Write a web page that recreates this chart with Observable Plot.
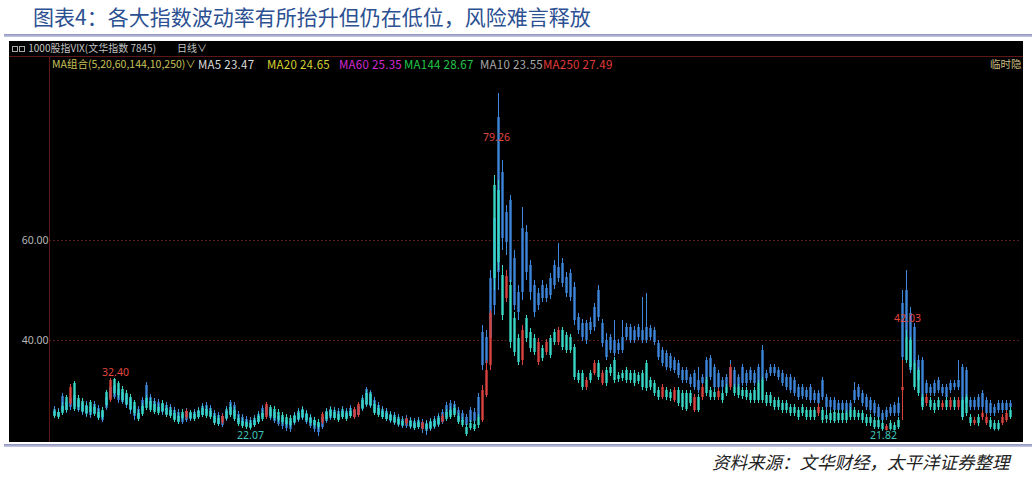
<!DOCTYPE html>
<html><head><meta charset="utf-8">
<script src="https://cdn.jsdelivr.net/npm/d3@7"></script>
<script src="https://cdn.jsdelivr.net/npm/@observablehq/plot@0.6"></script>
<style>
body{margin:0;background:#fff;}
#page{position:relative;width:1032px;height:477px;overflow:hidden;font-family:"Noto Sans CJK SC","Noto Sans",sans-serif;}
#title{position:absolute;left:33px;top:1px;font-size:21px;color:#2c5192;white-space:nowrap;line-height:30px;}
.sep{position:absolute;left:4px;width:1028px;height:3px;background:linear-gradient(#8d90bf,#c9cbe3);}
#panel{position:absolute;left:9px;top:41px;width:1014px;height:401px;background:#000;overflow:hidden;}
#chart{position:absolute;left:0;top:0;}
.hl{position:absolute;left:0;top:15px;width:1014px;height:1px;background:#5e1616;}
.vl{position:absolute;left:40px;top:15px;width:1px;height:386px;background:#5e1616;}
.t{position:absolute;white-space:nowrap;font-size:10.5px;line-height:14px;}
.m{font-size:11.5px;letter-spacing:0.25px;}
#caption{position:absolute;left:712px;top:450px;font-size:17.5px;font-style:italic;color:#222;white-space:nowrap;line-height:24px;}
.box{display:inline-block;width:4px;height:4px;border:1px solid #aaa;margin-right:1px;vertical-align:middle;}
</style>
</head><body>
<div id="page">
  <div id="title">图表4：各大指数波动率有所抬升但仍在低位，风险难言释放</div>
  <div class="sep" style="top:34px"></div>
  <div id="panel">
    <div id="chart"></div>
    <div class="hl"></div>
    <div class="vl"></div>
    <div class="t" style="left:3px;top:0px;color:#c4c4c4;font-size:10px"><span class="box"></span><span class="box"></span> 1000股指VIX(文华指数 7845)</div>
    <div class="t" style="left:168px;top:0px;color:#c4c4c4;font-size:10px">日线∨</div>
    <div class="t" style="left:43px;top:16px;color:#c9c25a">MA组合(5,20,60,144,10,250)∨</div>
    <div class="t m" style="left:189px;top:16px;color:#dcdcdc">MA5 23.47</div>
    <div class="t m" style="left:258px;top:16px;color:#d6d332">MA20 24.65</div>
    <div class="t m" style="left:330px;top:16px;color:#d42ad4">MA60 25.35</div>
    <div class="t m" style="left:395px;top:16px;color:#22c84a">MA144 28.67</div>
    <div class="t m" style="left:471px;top:16px;color:#a8a8a8">MA10 23.55</div>
    <div class="t m" style="left:534px;top:16px;color:#e03a3a">MA250 27.49</div>
    <div class="t" style="left:981px;top:16px;color:#cdbf85">临时隐</div>
  </div>
  <div class="sep" style="top:444px"></div>
  <div id="caption">资料来源：文华财经，太平洋证券整理</div>
</div>
<script>
// ---- data: two daily candlestick series ----
const blueO = [
26.2,25.6,28.8,27.6,28.4,29.0,28.0,27.4,27.0,26.6,
27.2,26.4,25.8,28.6,30.6,31.0,30.2,29.6,29.0,28.2,
26.8,26.2,28.0,31.0,28.6,27.8,27.6,27.2,27.0,26.6,
26.0,25.6,25.2,25.8,25.4,25.6,26.0,26.8,27.0,26.4,
25.4,25.0,24.8,26.2,27.6,27.0,25.2,24.6,24.2,24.0,
24.4,25.2,26.4,26.8,26.2,25.6,24.8,24.6,24.0,23.8,
25.0,25.8,26.2,25.4,24.6,24.0,23.4,24.6,25.8,26.2,
26.0,25.8,26.2,25.8,26.4,26.0,26.8,28.4,30.2,29.6,
28.0,27.0,26.2,25.8,25.2,25.0,24.6,24.2,24.4,24.0,
23.8,24.0,23.6,23.4,23.8,24.2,24.8,25.6,27.0,27.4,
27.2,26.0,25.4,24.6,26.0,25.6,28.6,41.6,40.6,52.4,
64.4,84.6,73.6,65.6,68.0,56.4,49.6,62.4,61.6,55.0,
51.0,49.4,51.0,50.4,52.4,55.0,54.6,55.4,52.6,53.4,
50.6,44.6,43.4,43.4,43.6,46.6,50.0,43.4,40.0,40.6,
40.0,39.4,40.6,42.6,42.6,42.0,42.6,42.0,42.6,42.4,
42.0,39.4,38.0,37.4,36.8,36.0,35.4,34.0,34.0,32.6,
33.4,32.0,32.6,36.0,36.4,34.6,33.4,32.0,32.6,34.6,
34.0,32.6,34.6,33.4,34.0,33.4,34.6,38.0,33.4,34.6,
34.6,34.0,33.4,32.6,32.6,32.0,30.6,30.6,30.0,30.6,
29.4,29.4,32.0,28.6,28.0,28.0,27.4,27.4,27.4,27.4,
30.0,30.6,29.4,28.6,28.0,27.4,26.6,25.4,26.0,26.6,
27.0,27.4,47.4,50.0,45.4,42.6,36.0,36.0,31.4,30.6,
31.4,32.0,30.6,30.6,31.4,31.4,32.0,34.6,34.0,28.0,
28.0,28.6,29.4,28.0,27.4,26.6,27.4,27.4,27.4,27.4];
const blueC = [
25.0,24.8,25.8,26.0,26.6,26.8,26.0,25.6,25.2,25.0,
25.4,24.6,24.0,26.4,28.4,28.6,28.0,27.6,27.0,26.0,
24.8,24.4,25.8,27.2,26.6,26.0,25.8,25.6,25.2,25.0,
24.2,23.8,23.6,24.0,24.2,24.4,24.6,25.0,25.2,24.8,
23.6,23.2,23.0,24.2,25.2,24.8,23.6,23.0,22.8,22.6,
23.0,23.6,24.6,25.0,24.4,23.8,23.2,22.8,22.4,22.2,
23.4,24.0,24.4,23.6,22.8,22.2,21.6,22.6,23.8,24.4,
24.4,24.2,24.6,24.4,24.8,24.6,25.0,26.2,27.0,26.8,
25.6,25.2,24.6,24.2,23.8,23.4,23.0,22.8,22.8,22.6,
22.4,22.6,22.2,21.8,22.2,22.6,23.0,23.6,24.6,25.0,
25.4,24.0,23.6,23.0,23.6,23.8,24.6,35.0,35.4,40.4,
47.0,53.6,60.4,59.6,51.6,47.0,45.6,49.6,53.6,49.6,
45.6,47.0,48.4,48.4,49.0,51.0,52.4,51.4,49.4,48.6,
44.0,42.0,40.6,40.0,42.0,42.6,44.6,39.4,36.6,38.0,
37.4,38.0,38.0,40.6,40.0,40.0,40.6,40.0,40.0,40.6,
39.6,36.6,35.4,34.6,34.4,34.0,33.0,32.0,32.0,31.2,
30.6,30.0,31.4,32.0,32.6,30.6,30.6,30.6,30.6,31.4,
30.6,30.6,31.4,31.4,32.0,31.4,31.4,32.0,32.4,33.4,
33.4,32.6,31.4,30.6,30.0,29.4,28.6,28.8,28.6,28.0,
28.0,27.4,28.6,26.6,26.6,26.0,26.0,26.0,25.4,26.0,
28.0,28.6,27.4,26.6,26.0,25.4,24.6,24.0,24.6,25.4,
25.4,25.4,36.6,40.6,34.0,35.4,32.0,27.0,29.4,29.4,
29.4,30.0,29.4,28.6,30.0,30.6,30.6,24.6,27.4,26.6,
26.6,26.6,26.6,25.4,25.4,25.4,26.0,26.0,26.0,26.6];
const blueH = [
26.8,26.4,29.4,28.4,29.6,29.8,28.6,28.2,27.8,27.4,
27.8,27.0,26.4,29.4,31.4,31.6,30.8,30.6,29.6,28.8,
27.4,26.8,28.6,31.6,29.2,28.4,28.2,27.8,27.6,27.2,
26.6,26.2,25.8,26.4,26.0,26.2,26.6,27.4,27.6,27.0,
26.0,25.6,25.4,26.8,28.0,27.6,25.8,25.2,24.8,24.6,
25.0,25.8,27.0,27.4,26.8,26.2,25.4,25.2,24.6,24.4,
25.6,26.4,26.8,26.0,25.2,24.6,24.0,25.2,26.4,26.8,
26.6,26.4,26.8,26.4,27.0,26.6,27.4,29.0,30.6,30.0,
28.6,27.6,26.8,26.4,25.8,25.6,25.2,24.8,25.0,24.6,
24.4,24.6,24.2,24.0,24.4,24.8,25.4,26.2,27.6,28.0,
27.8,26.6,26.0,25.2,26.6,26.4,29.4,43.0,42.0,54.0,
69.0,89.4,76.0,67.0,69.0,58.0,51.0,66.6,63.0,56.0,
52.0,50.4,52.0,51.2,53.4,56.0,59.4,56.4,53.6,54.2,
51.6,45.4,44.2,44.0,44.6,47.4,51.0,44.2,41.4,41.2,
44.0,40.2,44.0,43.4,43.2,42.8,43.2,48.6,49.4,43.0,
42.6,40.0,38.6,38.0,37.4,36.6,36.0,34.6,34.6,33.2,
34.0,34.6,33.2,36.6,37.0,35.2,34.0,32.6,33.2,36.0,
34.6,33.2,35.2,34.0,34.6,34.0,35.2,39.0,34.0,35.2,
35.2,34.6,34.0,33.2,33.2,32.6,31.2,31.2,30.6,31.2,
30.0,30.0,32.6,29.2,28.6,28.6,28.0,28.0,28.0,28.0,
31.6,31.2,30.0,29.2,28.6,28.0,27.2,26.0,26.6,27.2,
27.6,28.6,50.0,54.0,46.6,43.4,37.0,36.6,32.0,31.2,
32.0,32.6,31.2,31.2,32.0,32.0,36.0,35.2,34.6,28.6,
28.6,29.2,30.0,28.6,28.0,27.2,28.0,28.0,28.0,28.0];
const blueL = [
24.6,24.2,25.2,25.4,26.0,26.2,25.6,25.0,24.6,24.4,
24.8,24.0,23.6,26.0,28.0,28.2,27.4,27.2,26.4,25.2,
24.0,23.8,25.4,26.8,26.0,25.6,25.2,25.0,24.8,24.4,
23.6,23.4,23.2,23.6,23.8,24.0,24.2,24.6,24.8,24.4,
23.2,22.8,22.6,23.8,24.8,24.4,23.2,22.6,22.4,22.2,
22.6,23.2,24.2,24.6,24.0,23.4,22.8,22.2,21.8,21.6,
23.0,23.6,24.0,23.2,22.4,21.6,20.8,22.2,23.4,24.0,
24.0,23.8,24.2,24.0,24.4,24.2,24.6,25.8,26.6,26.4,
25.2,24.8,24.2,23.8,23.4,23.0,22.6,22.4,22.4,22.2,
22.0,22.2,21.4,21.0,21.8,22.2,22.6,23.2,24.2,24.6,
25.0,23.6,23.2,22.6,23.2,23.4,24.2,34.0,34.6,39.0,
45.0,50.0,58.0,57.0,50.0,46.0,44.0,48.0,52.0,48.0,
44.6,46.0,47.6,47.6,48.2,50.2,51.6,50.6,48.6,47.8,
43.0,41.2,39.8,39.2,41.2,41.8,43.8,38.6,36.0,37.4,
36.8,37.2,37.4,40.0,39.4,39.4,40.0,39.4,39.4,40.0,
39.0,36.0,34.8,34.0,33.8,33.4,32.4,31.4,31.4,30.6,
30.0,29.4,30.8,31.4,32.0,30.0,30.0,30.0,30.0,30.8,
30.0,30.0,30.8,30.8,31.4,30.8,30.8,31.4,31.8,32.8,
32.8,32.0,30.8,30.0,29.4,28.8,28.0,28.2,28.0,27.4,
27.4,26.8,28.0,26.0,26.0,25.4,25.4,25.4,24.8,25.4,
27.4,28.0,26.8,26.0,25.4,24.8,24.0,23.4,24.0,24.8,
24.8,24.8,35.0,39.0,33.4,34.6,31.4,26.4,28.8,28.8,
28.8,29.4,28.8,28.0,29.4,30.0,30.0,24.0,26.8,26.0,
26.0,26.0,26.0,24.8,24.8,24.8,25.4,25.4,25.4,26.0];

const cyanO = [
25.8,25.6,26.8,28.6,27.4,31.4,28.4,27.8,26.8,27.6,
26.6,25.6,26.0,29.6,28.0,32.2,31.4,30.2,29.4,28.6,
27.6,25.4,26.8,28.4,27.8,27.2,26.6,27.4,26.4,26.0,
25.4,24.8,25.6,24.6,25.6,25.2,25.8,26.4,26.2,25.8,
24.8,24.4,23.6,25.8,26.6,26.0,24.4,23.8,23.6,23.4,
24.0,24.8,25.4,24.6,26.6,26.2,25.6,25.0,24.6,24.4,
24.8,25.4,26.0,25.2,24.4,24.0,23.6,23.6,25.6,26.0,
25.6,25.2,25.8,25.4,25.8,24.6,25.0,28.0,29.4,29.2,
27.2,26.4,25.8,25.4,25.0,24.6,24.2,23.8,23.4,23.8,
23.4,23.6,22.4,23.2,23.6,23.8,24.4,23.8,25.6,26.0,
26.4,24.8,24.0,22.6,23.4,23.2,24.6,24.0,29.0,35.0,
71.0,70.0,53.0,48.4,51.0,44.4,40.4,36.0,44.4,41.6,
40.4,35.6,38.4,37.6,40.4,41.6,39.6,42.0,41.0,40.6,
38.6,33.4,33.4,30.6,33.4,33.4,35.4,31.4,34.0,34.6,
36.0,33.0,33.4,34.0,33.4,33.4,33.0,33.4,35.4,32.0,
31.4,30.0,28.6,30.0,29.6,28.0,30.0,29.4,29.4,29.4,
26.0,28.6,28.6,32.0,30.0,29.6,28.6,29.4,30.6,30.6,
30.6,30.6,30.0,30.0,29.4,30.0,31.4,32.0,29.0,29.0,
28.0,28.0,27.4,27.4,26.6,26.6,26.0,26.6,26.0,26.0,
26.0,25.4,26.0,25.0,25.4,25.6,25.4,25.4,25.4,26.0,
26.0,25.4,25.4,24.6,24.6,24.0,24.0,23.4,22.0,23.4,
23.0,24.0,30.0,40.6,40.0,35.4,34.0,28.6,27.4,28.0,
27.4,28.0,26.6,28.0,26.6,28.0,26.6,28.0,28.6,24.6,
23.4,24.6,24.6,23.4,24.0,23.4,23.4,23.4,24.0,26.0];
const cyanC = [
24.8,24.6,25.4,26.0,30.6,26.2,26.6,25.8,25.4,25.6,
25.2,24.4,24.6,27.0,32.0,29.4,29.0,28.0,27.2,26.2,
25.4,24.2,25.2,26.4,26.0,25.6,25.4,25.8,25.0,24.8,
24.0,23.6,24.4,25.8,24.4,24.2,24.6,25.0,24.8,24.6,
23.4,23.2,24.8,24.4,25.0,24.2,23.2,22.8,22.6,22.4,
23.0,23.6,24.2,27.2,24.8,24.4,24.0,23.6,23.2,23.0,
23.6,24.2,24.6,24.0,23.4,23.0,22.6,25.2,24.2,24.8,
24.4,24.0,24.6,24.2,24.8,26.2,27.2,26.4,27.2,27.0,
25.4,25.0,24.6,24.2,24.0,23.6,23.2,23.0,24.2,22.8,
22.4,22.6,23.4,22.2,22.4,22.8,23.2,24.8,24.2,24.6,
25.0,23.6,23.0,21.2,22.4,22.2,23.0,30.0,34.0,45.4,
52.4,55.6,45.0,52.8,39.6,37.6,35.6,42.0,40.4,38.4,
37.6,39.6,36.4,39.6,37.0,39.6,42.0,38.6,38.0,38.0,
32.6,32.0,30.6,32.0,32.0,35.4,32.6,33.4,31.4,33.4,
32.0,32.2,32.4,32.0,32.0,31.4,31.8,30.6,30.4,30.6,
29.4,28.6,30.6,28.6,28.4,30.0,27.4,26.6,26.2,27.4,
28.6,26.0,30.6,29.4,28.6,28.6,29.8,28.0,29.4,34.6,
29.4,29.0,28.8,28.6,28.0,28.0,28.0,28.0,27.4,27.4,
26.6,26.6,26.0,26.0,25.4,25.4,24.6,25.4,24.6,24.6,
24.6,26.6,24.0,24.2,24.0,23.8,24.0,24.0,24.0,24.6,
24.6,24.6,24.0,23.4,23.4,22.6,22.6,22.2,22.8,22.2,
22.0,22.6,30.6,36.0,34.6,30.6,29.4,26.6,28.6,26.6,
26.0,26.6,27.4,26.6,28.0,26.6,28.0,24.6,25.4,23.4,
24.0,23.4,25.4,24.6,22.6,22.2,22.2,24.6,25.4,24.6];
const cyanH = [
26.2,26.0,27.6,29.0,31.2,31.8,29.0,28.4,27.4,28.0,
27.2,26.2,26.6,30.0,32.4,32.4,31.8,30.8,30.0,29.2,
28.0,26.0,27.4,29.0,28.4,27.8,27.2,28.0,27.0,26.6,
26.0,25.4,26.2,26.2,26.0,25.8,26.4,27.0,26.8,26.4,
25.4,25.0,25.2,26.4,27.2,26.6,25.0,24.4,24.0,24.0,
24.6,25.4,26.0,27.6,27.0,26.8,26.2,25.6,25.2,25.0,
25.4,26.0,26.6,25.8,25.0,24.6,24.2,25.6,26.2,26.6,
26.2,25.8,26.4,26.0,26.4,26.6,27.6,28.6,30.0,29.6,
27.8,27.0,26.4,26.0,25.6,25.2,24.8,24.4,24.6,24.4,
24.0,24.2,23.8,23.8,24.2,24.4,25.0,25.2,26.2,26.6,
27.0,25.4,24.6,23.2,24.0,23.8,25.2,31.0,36.0,46.0,
73.0,72.0,55.0,54.0,52.0,45.6,41.2,43.0,45.0,42.4,
41.2,40.4,39.0,40.2,41.0,42.2,42.6,42.6,41.6,41.2,
39.2,34.0,34.0,32.6,34.0,36.0,36.0,34.0,34.6,35.2,
36.6,33.6,34.0,34.6,34.0,34.0,33.6,34.0,36.0,32.6,
32.0,30.6,31.2,30.6,30.2,30.6,30.6,30.0,30.0,30.0,
29.2,29.2,31.2,32.6,30.6,30.2,30.4,30.0,31.2,35.2,
31.2,31.2,30.6,30.6,30.0,30.6,32.0,32.6,29.6,29.6,
28.6,28.6,28.0,28.0,27.2,27.2,26.6,27.2,26.6,26.6,
26.6,27.2,26.6,26.0,26.0,26.0,26.0,26.0,26.0,26.6,
26.6,26.0,26.0,25.2,25.2,24.6,24.6,24.0,23.2,24.0,
23.6,24.6,36.0,42.03,40.6,36.0,34.6,29.2,29.2,28.6,
28.0,28.6,28.0,28.6,28.6,28.6,28.6,28.6,29.2,25.2,
24.6,25.2,26.0,25.2,24.6,24.0,24.0,25.2,26.0,26.6];
const cyanL = [
24.4,24.2,25.0,25.6,27.0,25.8,26.0,25.4,24.8,25.0,
24.8,24.0,24.2,26.6,27.6,29.0,28.4,27.6,26.8,25.8,
25.0,23.8,24.8,26.0,25.6,25.2,25.0,25.4,24.6,24.4,
23.6,23.2,24.0,24.2,24.0,23.8,24.2,24.6,24.4,24.2,
23.0,22.8,23.2,24.0,24.6,23.8,22.8,22.4,22.2,22.07,
22.6,23.2,23.8,24.2,24.4,24.0,23.6,23.2,22.8,22.6,
23.2,23.8,24.2,23.6,23.0,22.6,22.2,23.2,23.8,24.4,
24.0,23.6,24.2,23.8,24.4,24.2,24.6,26.0,26.8,26.6,
25.0,24.6,24.2,23.8,23.6,23.2,22.8,22.6,23.0,22.4,
22.0,22.2,22.0,21.8,22.0,22.4,22.8,23.4,23.8,24.2,
24.6,23.2,22.6,20.8,22.0,21.8,22.4,23.6,28.6,34.0,
50.0,54.0,44.0,47.6,38.4,36.8,35.0,35.0,39.6,37.6,
37.0,35.0,35.8,37.0,36.4,39.0,39.0,38.0,37.4,37.4,
32.0,31.4,30.0,30.0,31.4,33.0,32.0,31.0,30.8,32.8,
31.4,31.6,31.8,31.4,31.4,30.8,31.2,30.0,29.8,30.0,
28.8,28.0,28.2,28.0,27.8,27.6,26.8,26.0,25.8,26.8,
25.6,25.6,28.0,28.8,28.0,28.0,28.0,27.4,28.8,30.0,
28.8,28.4,28.2,28.0,27.4,27.4,27.4,27.4,26.8,26.8,
26.0,26.0,25.4,25.4,24.8,24.8,24.0,24.8,24.0,24.0,
24.0,24.8,23.4,23.4,23.4,23.4,23.4,23.4,23.4,24.0,
24.0,24.0,23.4,22.8,22.8,22.2,22.2,21.82,21.9,21.9,
21.9,22.2,24.0,35.4,34.0,30.0,28.8,26.0,26.8,26.0,
25.4,26.0,26.0,26.0,26.0,26.0,26.0,24.0,24.8,22.8,
23.0,22.8,24.0,23.0,22.2,21.9,21.9,23.0,23.6,24.2];

// y-axis ticks and extreme-value markers
const yTicks = [40, 60];
const markIdx = [15.25, 49, 110.5, 213.25, 207.25];
const markPos = [33.6, 21.0, 80.6, 44.4, 21.0];
const markText = ["32.40", "22.07", "79.26", "42.03", "21.82"];
const markHigh = [true, false, true, true, false];

// ---- build ----
const N = blueO.length;
const blue = d3.range(N).map(i => ({i, o: blueO[i], c: blueC[i], h: blueH[i], l: blueL[i]}));
const cyan = d3.range(N).map(i => ({i, o: cyanO[i], c: cyanC[i], h: cyanH[i], l: cyanL[i]}));
const marks = markIdx.map((x, k) => ({x, y: markPos[k], t: markText[k], hi: markHigh[k]}));

const BLUE = "#3d86da", CYAN = "#38d6c4", RED = "#d8433e";
const up = d => d.c > d.o;

const chart = Plot.plot({
  width: 1014, height: 401,
  marginLeft: 43, marginRight: 11, marginTop: 0, marginBottom: 2,
  style: {background: "transparent", fontFamily: "'Noto Sans', 'DejaVu Sans', sans-serif"},
  x: {domain: [-0.5, N - 0.5], axis: null},
  y: {domain: [20, 99.8], axis: null},
  marks: [
    Plot.ruleY(yTicks, {x1: -1.2, x2: 241.5, stroke: "#7c2222", strokeDasharray: "1.5,2.5", strokeWidth: 1}),
    Plot.axisY(yTicks, {tickSize: 0, tickPadding: 4, tickFormat: d => d.toFixed(2), color: "#b8b8b8", fontSize: 10.5}),
    Plot.ruleX(blue, {x: "i", y1: "l", y2: "h", stroke: BLUE, strokeWidth: 1}),
    Plot.ruleX(blue, {x: "i", y1: "o", y2: "c", stroke: BLUE, strokeWidth: 2.4}),
    Plot.ruleX(cyan, {filter: d => !up(d), x: "i", y1: "l", y2: "h", stroke: CYAN, strokeWidth: 1}),
    Plot.ruleX(cyan, {filter: d => !up(d), x: "i", y1: "o", y2: "c", stroke: CYAN, strokeWidth: 2.4}),
    Plot.ruleX(cyan, {filter: up, x: "i", y1: "l", y2: "h", stroke: RED, strokeWidth: 1}),
    Plot.ruleX(cyan, {filter: up, x: "i", y1: "o", y2: "c", stroke: RED, strokeWidth: 2.4}),
    Plot.text(marks.filter(d => d.hi), {x: "x", y: "y", text: "t", fill: "#e0463f", fontSize: 10.5}),
    Plot.text(marks.filter(d => !d.hi), {x: "x", y: "y", text: "t", fill: "#3fc6bd", fontSize: 10.5})
  ]
});
document.getElementById("chart").appendChild(chart);
</script>
</body></html>
